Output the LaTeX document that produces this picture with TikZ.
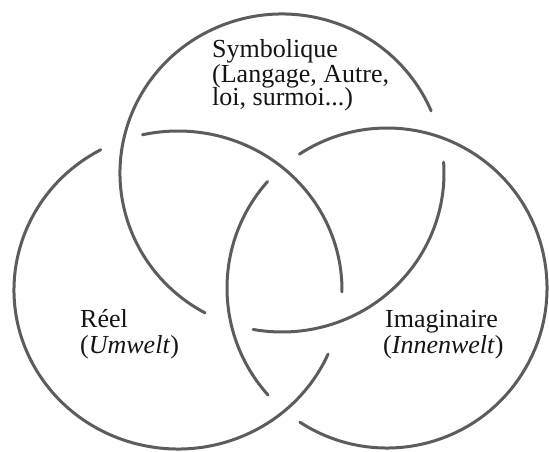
\documentclass[tikz,border=0pt]{standalone}
\usepackage{fontspec}
\setmainfont{Liberation Serif}
\begin{document}
\begin{tikzpicture}[x=1pt,y=1pt,
  ring/.style={draw=ringgray,line width=3pt,line cap=round},
  lbl/.style={inner sep=0pt,anchor=base west,text=txtcol,font=\fontsize{26}{26}\selectfont}]
\definecolor{ringgray}{RGB}{92,92,92}
\definecolor{txtcol}{RGB}{20,20,20}
\fill[white] (0,0) rectangle (549,451);
\useasboundingbox (0,0) rectangle (549,451);
% centres
\coordinate (cR) at (178,161);
\coordinate (cI) at (387,163);
\coordinate (cS) at (282,278);
% Reel (left ring)
\draw[ring] (cR) ++(-0.7:164 and 159) arc[start angle=-0.7,end angle=102.5,x radius=164,y radius=159];
\draw[ring] (cR) ++(118.1:164 and 159) arc[start angle=118.1,end angle=336.2,x radius=164,y radius=159];
% Imaginaire (right ring)
\draw[ring] (cI) ++(138.3:160 and 160) arc[start angle=138.3,end angle=222,x radius=160,y radius=160];
\draw[ring] (cI) ++(237:160 and 160) arc[start angle=237,end angle=483.2,x radius=160,y radius=160];
% Symbolique (top ring)
\draw[ring] (cS) ++(23:162 and 159) arc[start angle=23,end angle=241.6,x radius=162,y radius=159];
\draw[ring] (cS) ++(259.7:162 and 159) arc[start angle=259.7,end angle=363.9,x radius=162,y radius=159];
% labels
\node[lbl] (s1) at (212,393) {Symbolique};
\node[lbl] (s2) at (212,369) {(Langage, Autre,};
\node[lbl] (s3) at (212,345) {loi, surmoi...)};
\node[lbl] (r1) at (80,124) {Réel};
\node[lbl] (r2) at (80,98) {(\textit{Umwelt})};
\node[lbl] (i1) at (385,124) {Imaginaire};
\node[lbl] (i2) at (383,98) {(\textit{Innenwelt})};
\end{tikzpicture}
\end{document}
